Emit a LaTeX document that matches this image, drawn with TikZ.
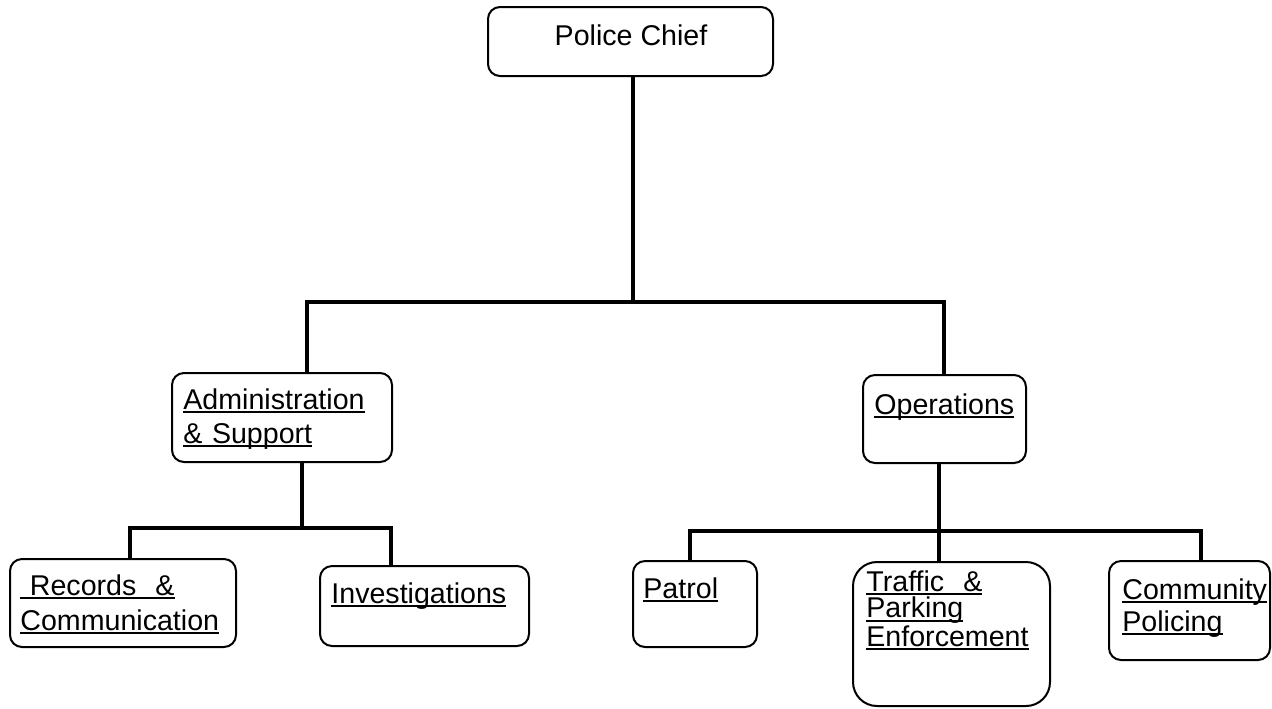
\documentclass[tikz,border=0pt]{standalone}
\usepackage{fontspec}
\setmainfont{Liberation Sans}
\newcommand{\undl}[1]{\leavevmode\setbox0\hbox{#1}\rlap{\rule[-2pt]{\wd0}{1pt}}\box0}

\begin{document}
\begin{tikzpicture}[x=0.5pt,y=-0.5pt,
  box/.style={draw,line width=1pt,rounded corners=6pt,inner sep=0pt},
  txt/.style={anchor=base west,inner sep=0pt,text width=5cm,align=left,font=\fontsize{14.3pt}{#1}\selectfont},
  txt/.default=17pt,
  link/.style={line width=1.7pt}]
\useasboundingbox (0,0) rectangle (1272,708);
\node[box,minimum width=142.5pt,minimum height=34.5pt] (chief) at (630.5,41.5) {};
\node[box,minimum width=110pt,minimum height=44.5pt] (admin) at (282,417.5) {};
\node[box,minimum width=81.5pt,minimum height=44pt] (ops) at (944.5,419) {};
\node[box,minimum width=113pt,minimum height=44pt] (rec) at (123,603) {};
\node[box,minimum width=104.5pt,minimum height=40pt] (inv) at (424.5,606) {};
\node[box,minimum width=62pt,minimum height=43pt] (patrol) at (695,604) {};
\node[box,rounded corners=12pt,minimum width=98.5pt,minimum height=72pt] (traffic) at (951.5,634) {};
\node[box,minimum width=80.5pt,minimum height=49.5pt] (comm) at (1189.5,610.5) {};
\node[anchor=base,inner sep=0pt,font=\fontsize{14.3pt}{17pt}\selectfont] (chief-t) at (631,45) {Police Chief};
\node[txt] (admin-t) at (183,409) {\undl{Administration}\\\undl{\& Support}};
\node[txt] (ops-t) at (874,414) {\undl{Operations}};
\node[txt=17.5pt] (rec-t) at (20,595) {\undl{\ Records\ \ \&}\\\undl{Communication}};
\node[txt] (inv-t) at (331,603) {\undl{Investigations}};
\node[txt] (patrol-t) at (643,598) {\undl{Patrol}};
\node[txt=13.25pt] (traffic-t) at (866,591) {\undl{Traffic\ \ \&}\\\undl{Parking}\\\undl{Enforcement}};
\node[txt=16pt] (comm-t) at (1122,599) {\undl{Community}\\\undl{Policing}};
\coordinate (j1) at (633,302);
\coordinate (a1) at (307,302);
\coordinate (o1) at (944,302);
\draw[link] (chief.south -| j1) -- (j1);
\draw[link] (admin.north -| a1) -- (a1) -- (o1) -- (o1 |- ops.north);
\coordinate (a2) at (302,528);
\coordinate (r2) at (130,528);
\coordinate (i2) at (391,528);
\draw[link] (admin.south -| a2) -- (a2);
\draw[link] (rec.north -| r2) -- (r2) -- (i2) -- (i2 |- inv.north);
\coordinate (o2) at (939,531);
\coordinate (p2) at (690,531);
\coordinate (c2) at (1201,531);
\draw[link] (ops.south -| o2) -- (o2) -- (traffic.north -| o2);
\draw[link] (patrol.north -| p2) -- (p2) -- (c2) -- (c2 |- comm.north);
\end{tikzpicture}
\end{document}
